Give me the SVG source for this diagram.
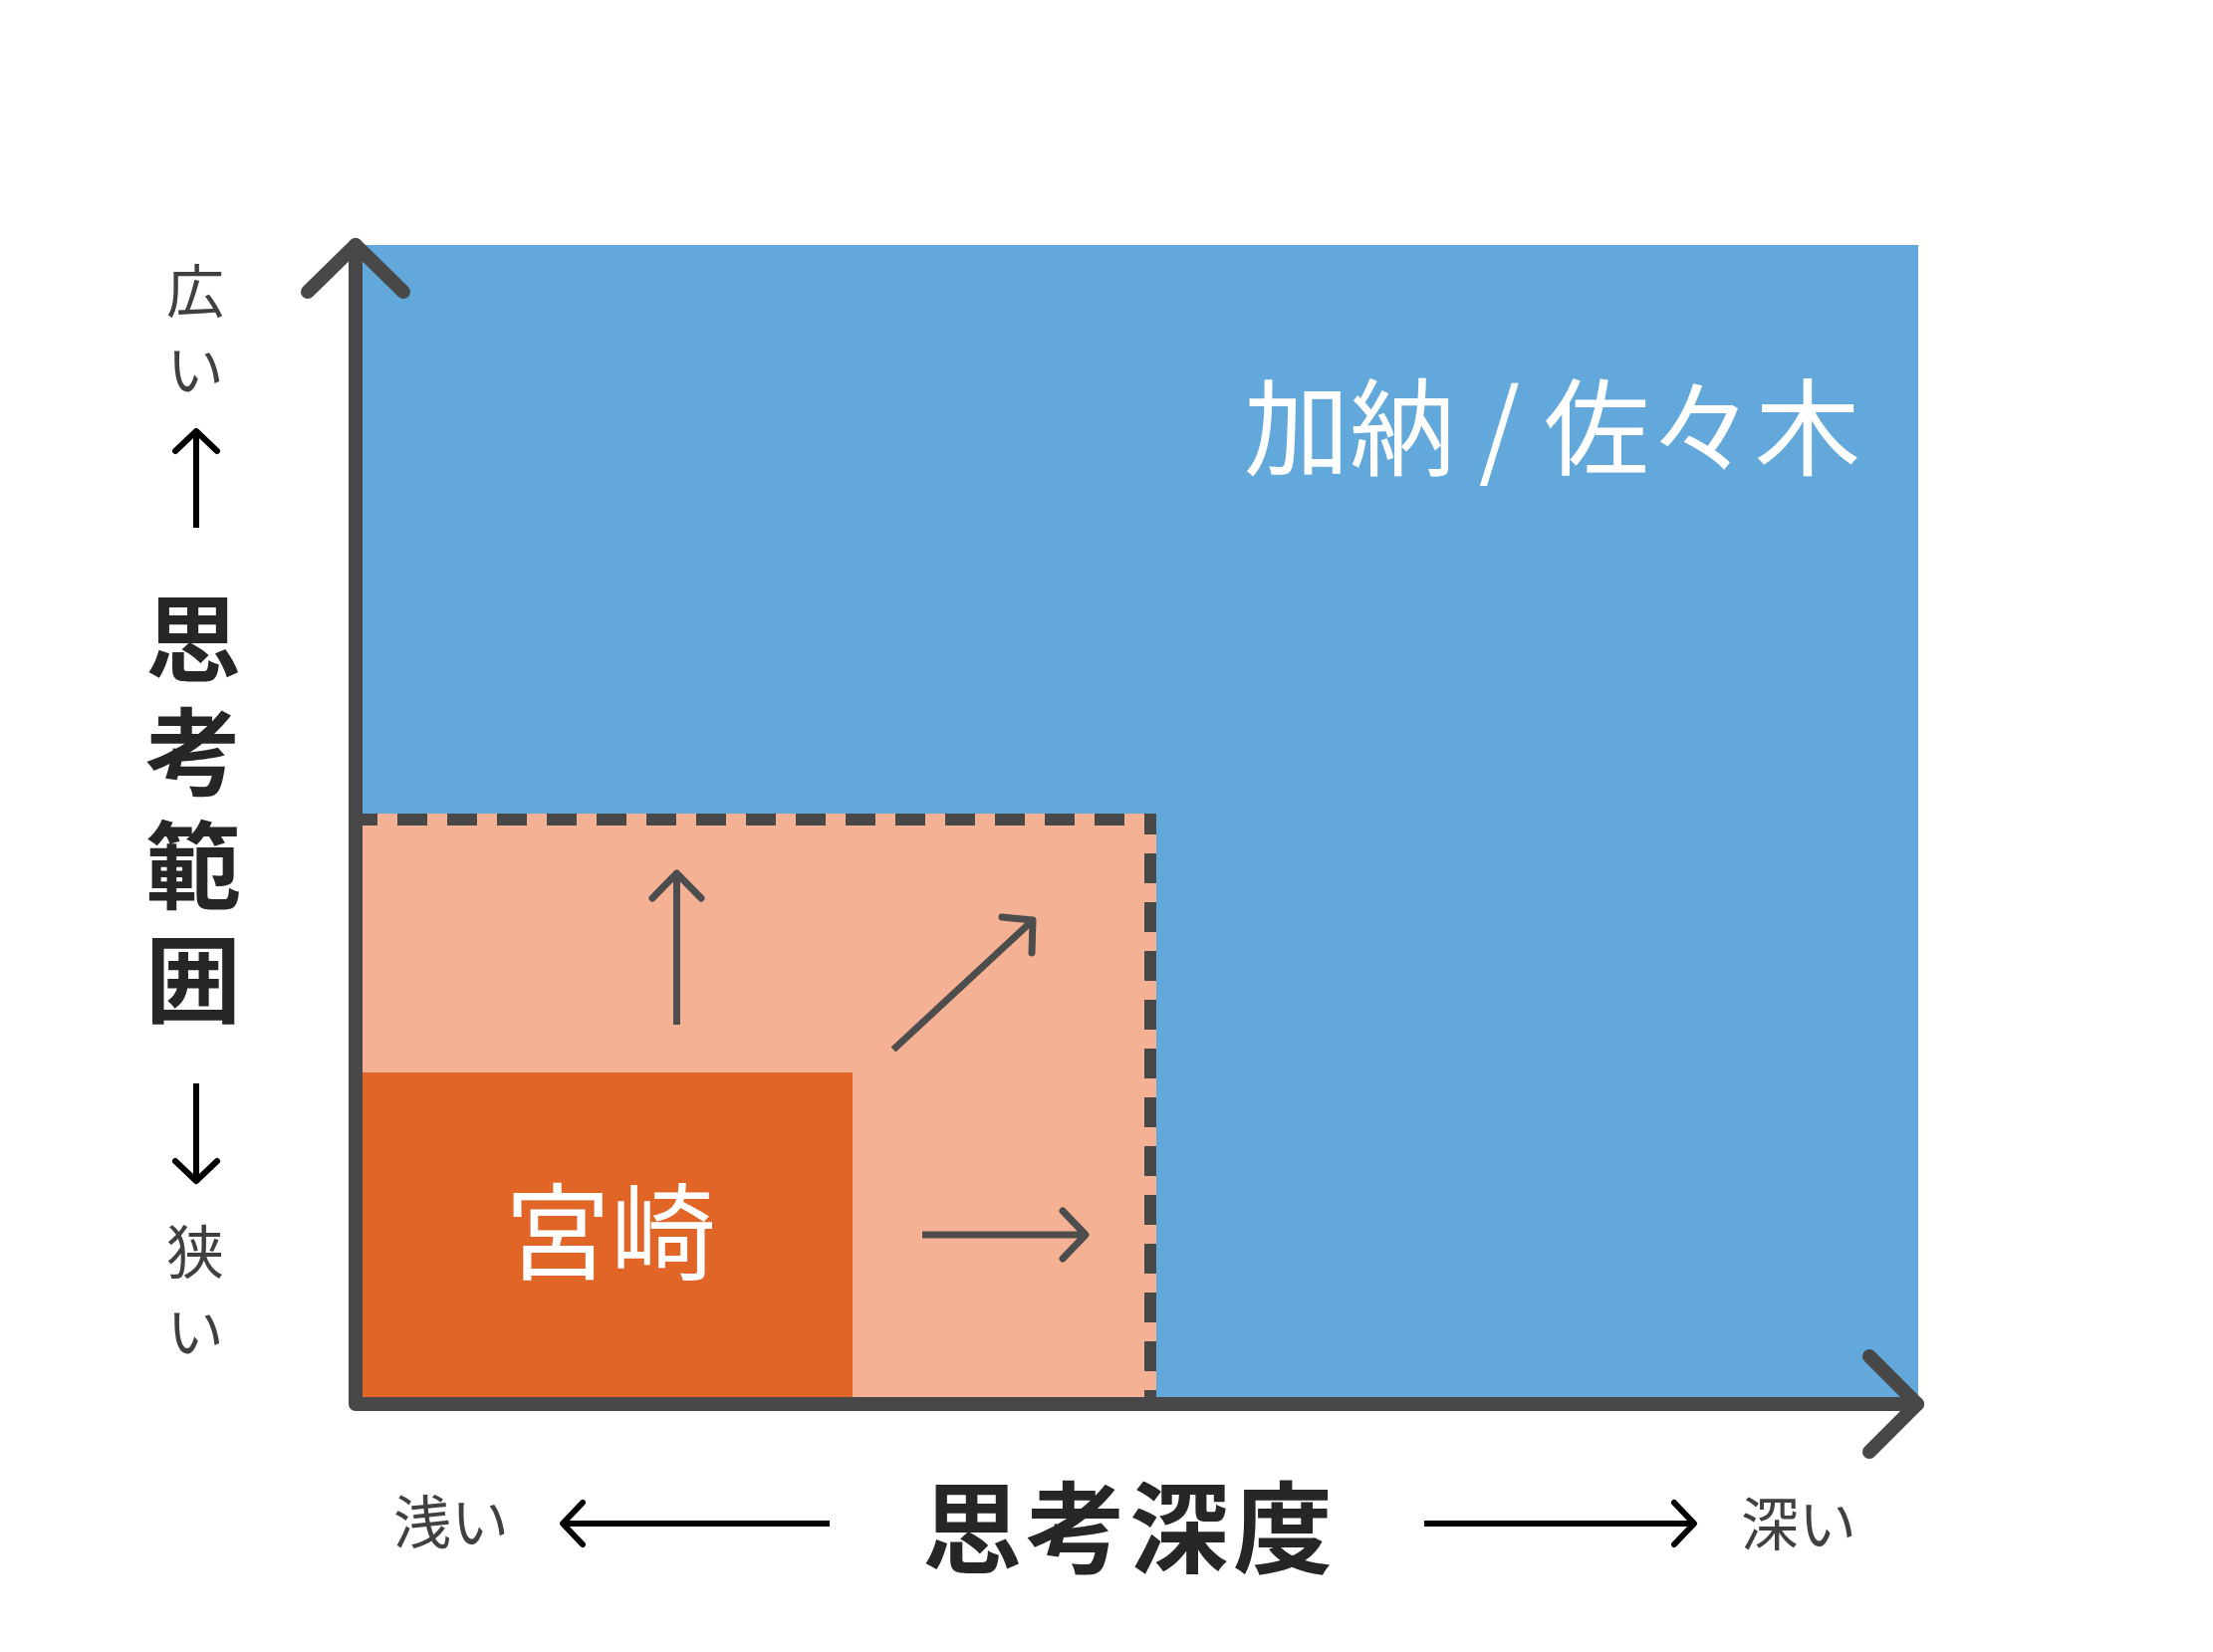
<svg xmlns="http://www.w3.org/2000/svg" width="2222" height="1659" viewBox="0 0 2222 1659">
<style>
.jp{font-family:"Noto Sans CJK JP","Noto Sans",sans-serif}
.big{font-size:106px;fill:#ffffff}
.ax{font-size:96px;font-weight:700;fill:#262626}
.sm{font-size:58px;fill:#404040}
.vt{writing-mode:vertical-rl}
.axis{fill:none;stroke:#484848;stroke-width:14;stroke-linecap:round;stroke-linejoin:round}
.dash{fill:none;stroke:#484848;stroke-width:12}
.garr{fill:none;stroke:#4d4d4d;stroke-width:7}
.ghead{fill:none;stroke:#4d4d4d;stroke-width:7;stroke-linecap:round;stroke-linejoin:round}
.barr{fill:none;stroke:#000;stroke-width:6}
.bhead{fill:none;stroke:#000;stroke-width:6;stroke-linecap:round;stroke-linejoin:round}
</style>
<rect width="2222" height="1659" fill="#ffffff"/>
<g id="node-kano-sasaki">
<rect x="357" y="246" width="1569" height="1164" fill="#62a8db"/>
<text class="jp big" x="1249" y="469">加納 / 佐々木</text>
</g>
<g id="node-expansion">
<rect x="357" y="817" width="804" height="593" fill="#f4b194"/>
<path class="dash" d="M357,823 H1161" stroke-dasharray="30 20" stroke-dashoffset="8"/>
<path class="dash" d="M1155,817 V1410" stroke-dasharray="30 19" stroke-dashoffset="9"/>
</g>
<g id="node-miyazaki">
<rect x="357" y="1077" width="499" height="333" fill="#e06526"/>
<text class="jp big" x="613" y="1277" text-anchor="middle">宮崎</text>
</g>
<g id="axes">
<path class="axis" d="M357,246 V1410 H1925"/>
<path class="axis" d="M309,293 L357,246 L405,293"/>
<path class="axis" d="M1877,1362 L1925,1410 L1877,1458"/>
</g>
<g id="connectors">
<path class="garr" d="M679.5,1029 V879"/>
<path class="ghead" d="M655,902 L679.5,877 L704,902"/>
<path class="garr" d="M897,1054 L1035,926"/>
<path class="ghead" d="M1006,921 L1037,924 L1036,957"/>
<path class="garr" d="M926,1240 H1088"/>
<path class="ghead" d="M1067,1216 L1090,1240 L1067,1264"/>
<path class="barr" d="M197,530 V436"/>
<path class="bhead" d="M176,453 L197,433 L218,453"/>
<path class="barr" d="M197,1088 V1183"/>
<path class="bhead" d="M176,1166 L197,1186 L218,1166"/>
<path class="barr" d="M833,1530 H568"/>
<path class="bhead" d="M585,1509 L565,1530 L585,1551"/>
<path class="barr" d="M1430,1530 H1698"/>
<path class="bhead" d="M1681,1509 L1701,1530 L1681,1551"/>
</g>
<g id="labels">
<text class="jp ax vt" x="194" y="593" style="letter-spacing:18px">思考範囲</text>
<text class="jp sm vt" x="196" y="263" style="letter-spacing:21px">広い</text>
<text class="jp sm vt" x="196" y="1228" style="letter-spacing:22px">狭い</text>
<text class="jp sm" x="453" y="1550" text-anchor="middle">浅い</text>
<text class="jp sm" x="1806" y="1552" text-anchor="middle">深い</text>
<text class="jp ax" x="926" y="1572" style="font-size:100px;letter-spacing:4px">思考深度</text>
</g>
</svg>
